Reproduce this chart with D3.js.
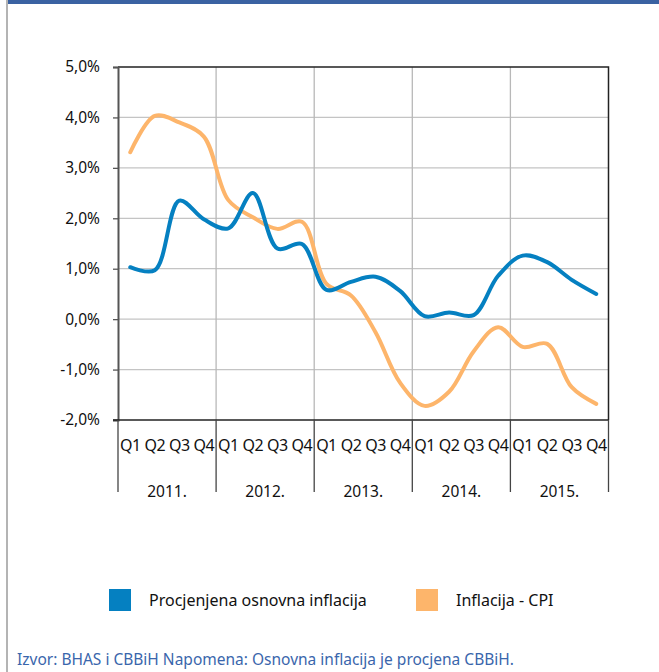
<!DOCTYPE html>
<html>
<head>
<meta charset="utf-8">
<script src="https://cdn.jsdelivr.net/npm/d3@7"></script>
<style>
  body { margin: 0; background: #fff; }
  #chart { width: 659px; height: 672px; overflow: hidden; }
  text { font-family: "Noto Sans", "Open Sans", sans-serif; fill: #111; }
</style>
</head>
<body>
<div id="chart"></div>
<script>
/* core vs CPI inflation, quarterly 2011-2015 */
const years = ["2011.", "2012.", "2013.", "2014.", "2015."]
const quarters = ["Q1", "Q2", "Q3", "Q4"]
const yTicks = [-2, -1, 0, 1, 2, 3, 4, 5]

// values, one per quarter
const coreInfl = [1.03, 0.97, 2.35, 1.98, 1.8, 2.5, 1.4, 1.49,
                  0.58, 0.74, 0.84, 0.56, 0.06, 0.13, 0.08, 0.86,
                  1.26, 1.13, 0.78, 0.5]
const cpiInfl = [3.31, 4.03, 3.9, 3.62, 2.36, 2.02, 1.79, 1.93,
                 0.7, 0.47, -0.26, -1.26, -1.72, -1.44, -0.64, -0.16,
                 -0.55, -0.49, -1.35, -1.68]

const seriesNames = ["Procjenjena osnovna inflacija", "Inflacija - CPI"]
const colors = ["#0580c1", "#fdb56b"]

const width = 659, height = 672,
    margin = ({top: 67, right: 50, bottom: 252, left: 118})

let svg = d3.select("#chart").append("svg")
    .attr("width", width).attr("height", height)

// page frame: blue strip on top, gray line on the left
svg.append("rect").attr("x", 8).attr("y", 0).attr("width", width - 8).attr("height", 4).attr("fill", "#3a62a2")
svg.append("line").attr("x1", 7).attr("x2", 7).attr("y1", 0).attr("y2", height)
    .attr("stroke", "#b4b4b4").attr("stroke-width", 2)

// one key per quarter
let keys = []
years.forEach(yr => quarters.forEach(q => keys.push(yr + q)))

let x = d3.scaleBand()
    .domain(keys)
    .range([margin.left, width - margin.right - 0.5])

let xYear = d3.scaleBand()
    .domain(years)
    .range([margin.left, width - margin.right - 0.5])

let y = d3.scaleLinear()
    .domain([-2, 5])
    .range([420, margin.top])

const x0 = margin.left, x1 = width - margin.right - 0.5

// horizontal grid
svg.append("g").selectAll("line")
    .data(yTicks.filter(d => d > -2 && d < 5))
    .join("line")
    .attr("x1", x0).attr("x2", x1)
    .attr("y1", d => y(d)).attr("y2", d => y(d))
    .attr("stroke", "#c4c4c4").attr("stroke-width", 1.3)

// vertical grid at year boundaries
svg.append("g").selectAll("line")
    .data(years.slice(1))
    .join("line")
    .attr("x1", d => xYear(d)).attr("x2", d => xYear(d))
    .attr("y1", y(5)).attr("y2", y(-2))
    .attr("stroke", "#b8b8b8").attr("stroke-width", 1.3)

// top and right border
svg.append("path")
    .attr("d", `M${x0},${y(5)}H${x1}V${y(-2)}`)
    .attr("fill", "none").attr("stroke", "#222").attr("stroke-width", 1.5)

// y axis
const yAxis = g => g
    .attr("transform", `translate(${x0},0)`)
    .call(d3.axisLeft(y).tickValues(yTicks).tickSize(5).tickPadding(13)
        .tickFormat(d => d3.format(".1f")(d).replace(".", ",").replace("−", "-") + "%"))
    .call(g => g.select(".domain").attr("stroke", "#555").attr("stroke-width", 2))
    .call(g => g.selectAll(".tick line").attr("stroke", "#555").attr("stroke-width", 1.3))
    .call(g => g.selectAll("text").attr("font-size", 15.5).attr("fill", "#111")
        .attr("font-family", "'Noto Sans', sans-serif"))

svg.append("g").call(yAxis)

// x axis line
svg.append("line").attr("x1", x0 - 5).attr("x2", x1).attr("y1", y(-2)).attr("y2", y(-2))
    .attr("stroke", "#222").attr("stroke-width", 1.5)

// year separators below the axis
svg.append("g").selectAll("line")
    .data(years.concat(["end"]))
    .join("line")
    .attr("x1", d => d === "end" ? x1 : xYear(d))
    .attr("x2", d => d === "end" ? x1 : xYear(d))
    .attr("y1", y(-2)).attr("y2", 492)
    .attr("stroke", "#444").attr("stroke-width", 1.3)

// quarter labels
svg.append("g").selectAll("text")
    .data(keys)
    .join("text")
    .attr("x", d => x(d) + x.bandwidth() / 2)
    .attr("y", 451)
    .attr("text-anchor", "middle")
    .attr("font-size", 16)
    .attr("letter-spacing", -0.5)
    .text(d => d.slice(-2))

// year labels
svg.append("g").selectAll("text")
    .data(years)
    .join("text")
    .attr("x", d => xYear(d) + xYear.bandwidth() / 2)
    .attr("y", 497)
    .attr("text-anchor", "middle")
    .attr("font-size", 15.5)
    .text(d => d)

// lines
let line = d3.line()
    .x((d, i) => x(keys[i]) + x.bandwidth() / 2)
    .y(d => y(d))
    .curve(d3.curveCatmullRom.alpha(0.5))

svg.append("path").datum(cpiInfl)
    .attr("d", line).attr("fill", "none")
    .attr("stroke", colors[1]).attr("stroke-width", 4).attr("stroke-linecap", "round")

svg.append("path").datum(coreInfl)
    .attr("d", line).attr("fill", "none")
    .attr("stroke", colors[0]).attr("stroke-width", 4).attr("stroke-linecap", "round")

// legend
const legendX = [109, 416]
let legend = svg.append("g").selectAll("g")
    .data(seriesNames)
    .join("g")
    .attr("transform", (d, i) => `translate(${legendX[i]},589)`)

legend.append("rect")
    .attr("width", 22).attr("height", 22)
    .attr("fill", (d, i) => colors[i])

legend.append("text")
    .attr("x", 40).attr("y", 17)
    .attr("font-size", 16)
    .text(d => d)

// source note at the bottom edge
svg.append("text")
    .attr("x", 17).attr("y", 665)
    .attr("font-size", 15.5)
    .style("fill", "#3a66ac")
    .text("Izvor: BHAS i CBBiH Napomena: Osnovna inflacija je procjena CBBiH.")
</script>
</body>
</html>
